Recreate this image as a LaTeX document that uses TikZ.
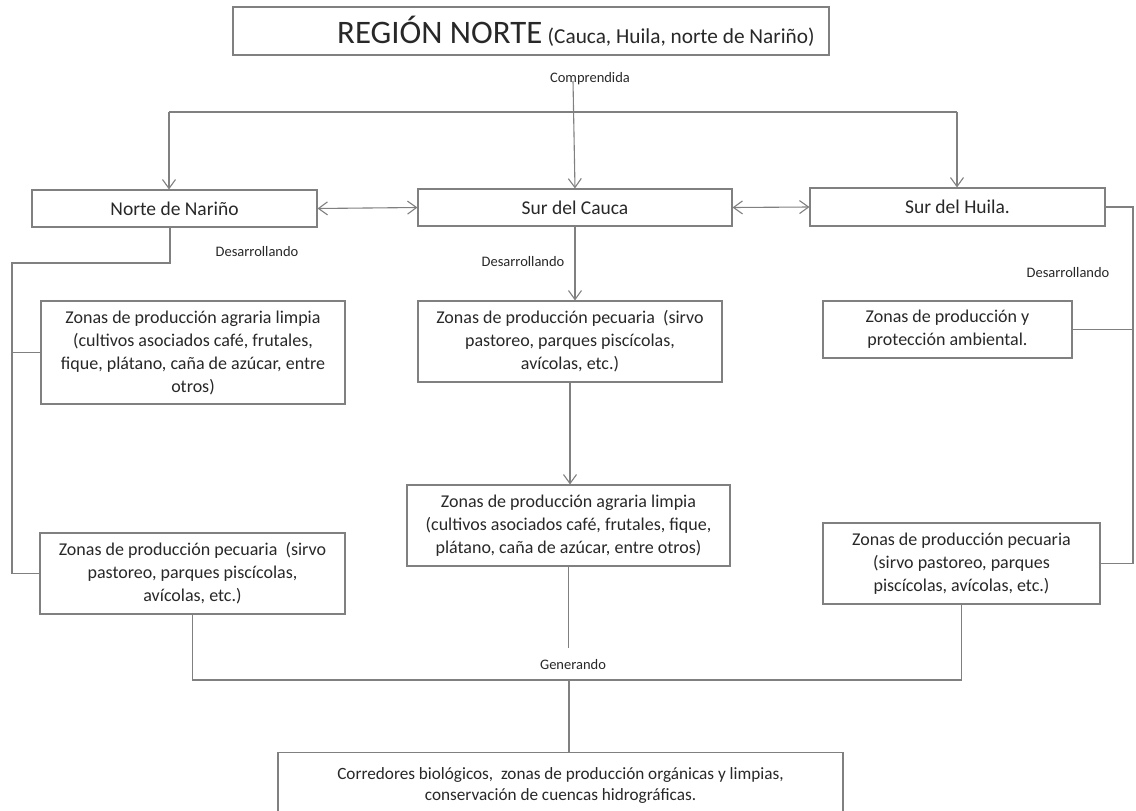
\documentclass[tikz,border=0pt]{standalone}
\usepackage{fontspec}
\setmainfont{Carlito}
\usetikzlibrary{arrows.meta}
\definecolor{lncol}{RGB}{128,128,128}
\definecolor{txcol}{RGB}{40,40,40}
\tikzset{
  boxnode/.style={draw=lncol, line width=1.1pt, inner sep=0pt, align=center, text=txcol,
    font=\fontsize{18}{23}\selectfont},
  rowbox/.style={boxnode, font=\fontsize{19.5}{23}\selectfont},
  lbl/.style={inner sep=0pt, text=txcol, font=\fontsize{14.5}{17}\selectfont},
  conn/.style={draw=lncol, line width=1.1pt},
  arr/.style={conn, -{Straight Barb[length=9pt,width=13pt]}},
  arrtwo/.style={conn, {Straight Barb[length=9pt,width=13pt]}-{Straight Barb[length=9pt,width=13pt]}}
}
\begin{document}
\begin{tikzpicture}[x=1pt,y=-1pt]
\useasboundingbox (0,0) rectangle (1136,811);
\fill[white] (0,0) rectangle (1136,811);

% title
\node[boxnode, minimum width=596pt, minimum height=48pt] (title) at (531,31) {};
\node[inner sep=0pt, text=txcol, anchor=west] (titletext) at (337,31)
  {\fontsize{32.8}{36}\selectfont REGIÓN NORTE\,\fontsize{21.3}{24}\selectfont(Cauca, Huila, norte de Nariño)};

% row 2
\node[rowbox, minimum width=285pt, minimum height=37pt] (norte) at (174.5,208.5) {Norte de Nariño};
\node[rowbox, minimum width=314pt, minimum height=37pt] (cauca) at (575,207.5) {Sur del Cauca};
\node[rowbox, minimum width=295pt, minimum height=38pt] (huila) at (957.5,207) {Sur del Huila.};

% left column
\node[boxnode, minimum width=304pt, minimum height=103pt] (nagr) at (193,352.5)
  {Zonas de producción agraria limpia\\(cultivos asociados café, frutales,\\fique, plátano, caña de azúcar, entre\\otros)};
\node[boxnode, minimum width=305pt, minimum height=81pt] (npec) at (192.5,573.5)
  {Zonas de producción pecuaria~ (sirvo\\pastoreo, parques piscícolas,\\avícolas, etc.)};

% middle column
\node[boxnode, minimum width=304pt, minimum height=81pt] (cpec) at (570,341.5)
  {Zonas de producción pecuaria~ (sirvo\\pastoreo, parques piscícolas,\\avícolas, etc.)};
\node[boxnode, minimum width=323pt, minimum height=81pt] (cagr) at (568.5,525.5)
  {Zonas de producción agraria limpia\\(cultivos asociados café, frutales, fique,\\plátano, caña de azúcar, entre otros)};

% right column
\node[boxnode, minimum width=249pt, minimum height=57pt] (amb) at (947.5,329.5)
  {Zonas de producción y\\protección ambiental.};
\node[boxnode, minimum width=277pt, minimum height=81pt] (hpec) at (961.5,563.5)
  {Zonas de producción pecuaria\\(sirvo pastoreo, parques\\piscícolas, avícolas, etc.)};

% bottom
\node[boxnode, minimum width=565pt, minimum height=66pt, anchor=north] (bot) at (560.5,752) {};
\node[inner sep=0pt, align=center, text=txcol, font=\fontsize{17.2}{21}\selectfont] (bottext) at (560.5,785)
  {Corredores biológicos,~ zonas de producción orgánicas y limpias,\\conservación de cuencas hidrográficas.};

% labels
\node[lbl] (comp) at (590,79) {Comprendida};
\node[lbl] (desn) at (257,252) {Desarrollando};
\node[lbl] (desc) at (523,262) {Desarrollando};
\node[lbl] (desh) at (1068,273) {Desarrollando};
\node[lbl] (gen) at (573,665) {Generando};

% top connectors
\coordinate (cstart) at (573,81);
\coordinate (jl) at (169,112);
\coordinate (jr) at (957,112);
\draw[arr] (cstart) -- (cauca.north);
\draw[conn] (jl) -- (jr);
\draw[arr] (jl) -- (jl |- norte.north);
\draw[arr] (jr) -- (jr |- huila.north);

% sibling arrows
\draw[arrtwo] (norte.east) -- (cauca.west);
\draw[arrtwo] (cauca.east) -- (huila.west);

% left tree
\coordinate (nd) at (170,263);
\coordinate (nl) at (12,263);
\draw[conn] (nd |- norte.south) -- (nd) -- (nl) |- (npec.west);
\draw[conn] (nl |- nagr.west) -- (nagr.west);

% middle chain
\draw[arr] (cauca.south) -- (cauca.south |- cpec.north);
\draw[arr] (cpec.south) -- (cpec.south |- cagr.north);
\coordinate (cend) at (568.5,648);
\draw[conn] (cagr.south) -- (cend);

% right tree
\coordinate (hr) at (1133,207);
\draw[conn] (huila.east) -- (hr) |- (hpec.east);
\draw[conn] (hr |- amb.east) -- (amb.east);

% bottom join
\coordinate (gl) at (192.5,680);
\coordinate (gr) at (961.5,680);
\coordinate (gm) at (569,680);
\draw[conn] (npec.south) -- (gl) -- (gr) -- (hpec.south);
\draw[conn] (gm) -- (gm |- bot.north);
\end{tikzpicture}
\end{document}
